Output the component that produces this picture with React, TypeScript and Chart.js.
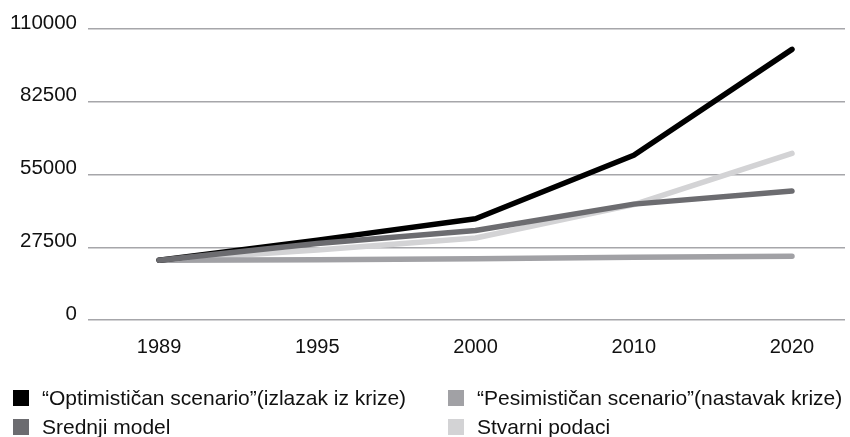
import React, { useEffect, useRef } from "react";
import { Chart, registerables } from "chart.js";

Chart.register(...registerables);

const years = ["1989", "1995", "2000", "2010", "2020"];
const optimisticValues = [22600, 30200, 38300, 62300, 102300];
const pessimisticValues = [22600, 22800, 23200, 23700, 24100];
const middleValues = [22600, 28900, 33800, 43800, 48800];
const actualValues = [22600, 26500, 31000, 43600, 63000];
const yTicks = [0, 27500, 55000, 82500, 110000];

const seriesNames = [
  "\u201COptimisti\u010Dan scenario\u201D(izlazak iz krize)",
  "\u201CPesimisti\u010Dan scenario\u201D(nastavak krize)",
  "Srednji model",
  "Stvarni podaci",
];
const seriesColors = ["#000000", "#a1a1a5", "#6c6c70", "#d3d3d5"];
const seriesOrder = [1, 2, 0, 3];

const FONT = "'Liberation Sans', Arial, Helvetica, sans-serif";

export default function App() {
  const canvasRef = useRef<HTMLCanvasElement | null>(null);

  useEffect(() => {
    document.body.style.margin = "0";
    const allValues = [optimisticValues, pessimisticValues, middleValues, actualValues];
    const chart = new Chart(canvasRef.current as HTMLCanvasElement, {
      type: "line",
      data: {
        datasets: allValues.map((vals, i) => ({
          label: seriesNames[i],
          data: vals.map((v, j) => ({ x: j, y: v })),
          borderColor: seriesColors[i],
          backgroundColor: seriesColors[i],
          borderWidth: 5.5,
          borderCapStyle: "round" as const,
          borderJoinStyle: "round" as const,
          pointRadius: 0,
          tension: 0,
          order: seriesOrder[i],
        })),
      },
      options: {
        animation: false,
        responsive: false,
        maintainAspectRatio: false,
        layout: { padding: { top: 29, right: 5, left: 0, bottom: 0 } },
        plugins: { legend: { display: false }, tooltip: { enabled: false } },
        scales: {
          x: {
            type: "linear",
            min: -0.449,
            max: 4.335,
            afterBuildTicks: (axis: any) => {
              axis.ticks = years.map((_, i) => ({ value: i }));
            },
            afterFit: (axis: any) => {
              axis.height = 117;
            },
            grid: { display: false, drawTicks: false },
            border: { display: false },
            ticks: {
              padding: 15,
              color: "#111",
              font: { family: FONT, size: 20 },
              maxRotation: 0,
              callback: (v: any) => years[v as number] ?? "",
            },
          },
          y: {
            min: 0,
            max: 110000,
            afterBuildTicks: (axis: any) => {
              axis.ticks = yTicks.map((v) => ({ value: v }));
            },
            afterFit: (axis: any) => {
              axis.width = 88;
            },
            grid: { color: "#a6a6aa", lineWidth: 1.5, drawTicks: false },
            border: { display: false },
            ticks: {
              padding: 11,
              labelOffset: -6,
              color: "#111",
              font: { family: FONT, size: 20.5 },
              callback: (v: any) => String(v),
            },
          },
        },
      },
    });
    return () => chart.destroy();
  }, []);

  const legendPos = [
    { left: 12, top: 389 },
    { left: 447, top: 389 },
    { left: 12, top: 418 },
    { left: 447, top: 418 },
  ];

  return (
    <div style={{ position: "relative", width: 850, height: 437, background: "#fff", overflow: "hidden" }}>
      <canvas ref={canvasRef} width={850} height={437} style={{ display: "block" }} />
      {seriesNames.map((name, i) => (
        <div
          key={name}
          style={{
            position: "absolute",
            left: legendPos[i].left,
            top: legendPos[i].top,
            display: "flex",
            alignItems: "center",
            fontFamily: FONT,
            fontSize: 21,
            color: "#111",
            whiteSpace: "nowrap",
            lineHeight: "18px",
            height: 18,
          }}
        >
          <span
            style={{
              display: "inline-block",
              width: 16,
              height: 16,
              background: seriesColors[i],
              marginLeft: 1,
              marginRight: 13,
              flex: "none",
            }}
          />
          <span>{name}</span>
        </div>
      ))}
    </div>
  );
}
